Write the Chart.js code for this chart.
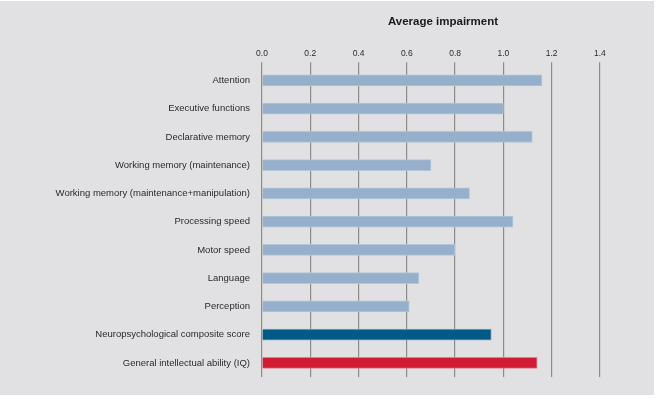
<!DOCTYPE html>
<html>
<head>
<meta charset="utf-8">
<script src="https://cdn.jsdelivr.net/npm/chart.js@4.4.0/dist/chart.umd.min.js"></script>
<style>
  html, body { margin: 0; padding: 0; background: #ffffff; }
  #panel { position: absolute; left: 0; top: 1px; width: 654px; height: 394px; background: #e1e1e3; }
  #wrap { position: absolute; left: 0; top: 0; width: 658px; height: 401px; }
</style>
</head>
<body>
<div id="panel"></div>
<div id="wrap"><canvas id="chart" width="658" height="401"></canvas></div>
<script>
// Datos del gráfico
const domains = [
  'Attention',
  'Executive functions',
  'Declarative memory',
  'Working memory (maintenance)',
  'Working memory (maintenance+manipulation)',
  'Processing speed',
  'Motor speed',
  'Language',
  'Perception',
  'Neuropsychological composite score',
  'General intellectual ability (IQ)'
];
const impairment = [1.16, 1.00, 1.12, 0.70, 0.86, 1.04, 0.80, 0.65, 0.61, 0.95, 1.14];
const barColors = ['#96afcb', '#96afcb', '#96afcb', '#96afcb', '#96afcb', '#96afcb', '#96afcb', '#96afcb', '#96afcb', '#005a87', '#d01d33'];
const barBorders = ['#b3c5d9', '#b3c5d9', '#b3c5d9', '#b3c5d9', '#b3c5d9', '#b3c5d9', '#b3c5d9', '#b3c5d9', '#b3c5d9', '#7fa6c0', '#e07f8b'];
const tickMax = 1.4;

const ctx = document.getElementById('chart');

new Chart(ctx, {
  type: 'bar',
  data: {
    labels: domains,
    datasets: [{
      data: impairment,
      backgroundColor: barColors,
      borderColor: barBorders,
      borderWidth: 1,
      borderSkipped: 'start',
      barThickness: 11
    }]
  },
  options: {
    indexAxis: 'y',
    responsive: false,
    animation: false,
    layout: { padding: { top: 0, left: 0, right: 34, bottom: 24 } },
    plugins: {
      legend: { display: false },
      tooltip: { enabled: false },
      title: {
        display: true,
        text: 'Average impairment',
        fullSize: false,
        color: '#1a1a1a',
        font: { family: 'Liberation Sans', size: 11.5, weight: 'bold' },
        padding: { top: 15, bottom: 0 }
      }
    },
    scales: {
      x: {
        position: 'top',
        min: 0,
        max: 1.5,
        afterBuildTicks: axis => {
          axis.ticks = axis.ticks.filter(t => t.value <= tickMax + 1e-9);
        },
        afterFit: axis => { axis.height = 37.5; },
        border: { display: false },
        grid: { color: '#8c8c8c', lineWidth: 1.2, tickLength: 4 },
        ticks: {
          stepSize: 0.2,
          padding: 4,
          color: '#2a2a2a',
          font: { family: 'Liberation Sans Narrow, Liberation Sans', size: 8.5 },
          callback: v => v.toFixed(1)
        }
      },
      y: {
        afterFit: axis => { axis.width = 262; },
        border: { display: false },
        grid: { display: false, drawTicks: false },
        ticks: {
          padding: 12,
          color: '#2a2a2a',
          font: { family: 'Liberation Sans', size: 9.5 }
        }
      }
    }
  }
});
</script>
</body>
</html>
